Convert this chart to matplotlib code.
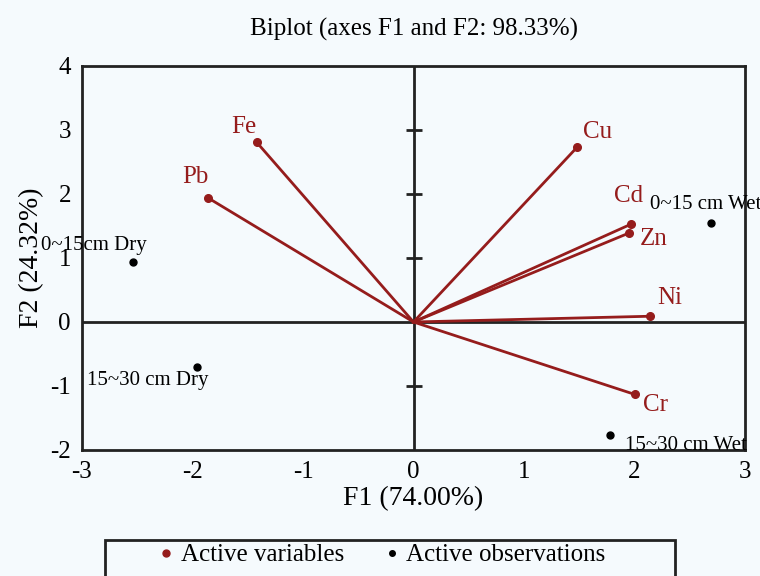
import matplotlib
matplotlib.use("Agg")
import matplotlib.pyplot as plt
from matplotlib.patches import Rectangle

plt.rcParams['font.family'] = ['Liberation Serif', 'DejaVu Serif']
plt.rcParams['axes.unicode_minus'] = False

# Data
var_names = ["Fe", "Pb", "Cu", "Cd", "Zn", "Ni", "Cr"]
var_f1 = [-1.42, -1.86, 1.48, 1.97, 1.95, 2.14, 2.00]
var_f2 = [2.81, 1.94, 2.73, 1.53, 1.39, 0.09, -1.13]

obs_names = ["0~15cm Dry", "15~30 cm Dry", "0~15 cm Wet", "15~30 cm Wet"]
obs_f1 = [-2.54, -1.96, 2.69, 1.78]
obs_f2 = [0.94, -0.70, 1.55, -1.77]

xticks = [-3, -2, -1, 0, 1, 2, 3]
yticks = [-2, -1, 0, 1, 2, 3, 4]

# label offsets in points (style)
var_off = {"Fe": (-9, 11), "Pb": (-9, 15), "Cu": (15, 11), "Cd": (-2, 20),
           "Zn": (18, -4), "Ni": (14, 13), "Cr": (15, -8)}
obs_lab = {"0~15cm Dry": (-66, 12), "15~30 cm Dry": (-79, -10),
           "0~15 cm Wet": (-44, 13), "15~30 cm Wet": (11, -7)}

bg = '#f5fafd'
red = '#951c1c'

fig = plt.figure(figsize=(7.6, 5.76), dpi=100, facecolor=bg)
ax = fig.add_axes([82/760, 1-450/576, (745-82)/760, (450-66)/576])
ax.set_facecolor(bg)

ax.set_xlim(-3, 3)
ax.set_ylim(-2, 4)
ax.set_xticks(xticks)
ax.set_yticks(yticks)
ax.tick_params(length=0, labelsize=18, pad=8)
for s in ax.spines.values():
    s.set_linewidth(2)
    s.set_color('#222222')

ax.axhline(0, color='#222222', lw=2, zorder=1)
ax.axvline(0, color='#222222', lw=2, zorder=1)
inner = [t for t in yticks if t not in (0, yticks[0], yticks[-1])]
ax.plot([0]*len(inner), inner, ls='none', marker='_', ms=11, mew=2, color='#222222', zorder=1)

for n, x, y in zip(var_names, var_f1, var_f2):
    ax.plot([0, x], [0, y], color=red, lw=2, zorder=2)
    ax.plot(x, y, 'o', color=red, ms=5.5, zorder=3)
    ax.annotate(n, (x, y), xytext=var_off[n], textcoords='offset points',
                ha='center', va='center', fontsize=18, color=red)

for n, x, y in zip(obs_names, obs_f1, obs_f2):
    ax.plot(x, y, 'o', color='black', ms=5, zorder=3)
    dx, dy = obs_lab[n]
    ax.annotate(n, (x, y), xytext=(dx, dy), textcoords='offset points',
                ha='left', va='center', fontsize=15, color='black',
                annotation_clip=False)

ax.set_title("Biplot (axes F1 and F2: 98.33%)", fontsize=18, pad=22)
ax.set_xlabel("F1 (74.00%)", fontsize=20, labelpad=2)
ax.set_ylabel("F2 (24.32%)", fontsize=20, labelpad=4)

# legend
h1, = ax.plot([], [], 'o', color=red, ms=5)
h2, = ax.plot([], [], 'o', color='black', ms=4)
fig.add_artist(Rectangle((105/760, -0.05), 570/760, 0.05 + (1-540/576),
                         transform=fig.transFigure, fill=False, lw=2, edgecolor='#222222'))
fig.legend([h1, h2], ["Active variables", "Active observations"], ncol=2,
           loc='center', bbox_to_anchor=(382/760, 1-555/576), frameon=False,
           fontsize=18, handlelength=0.6, handletextpad=0.3, columnspacing=1.6)

fig.savefig("out.png", dpi=100, facecolor=bg)
